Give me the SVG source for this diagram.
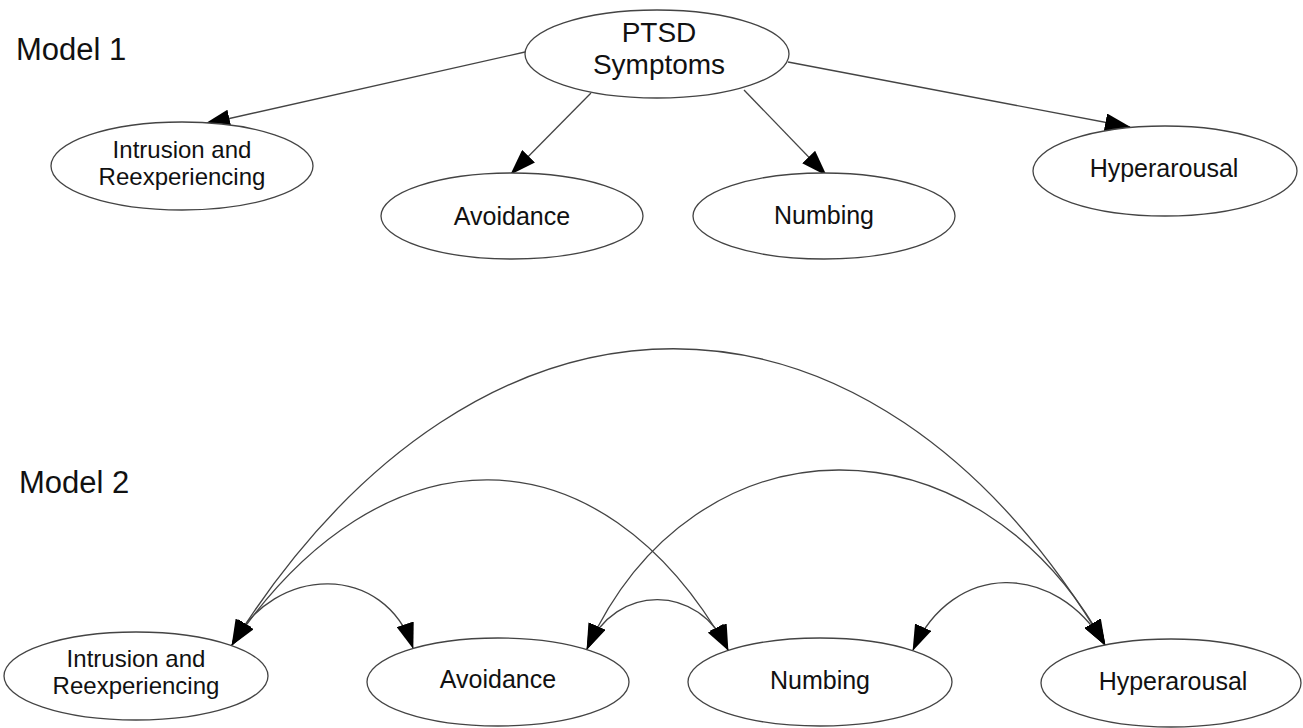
<svg xmlns="http://www.w3.org/2000/svg" width="1303" height="728" viewBox="0 0 1303 728">
<defs>
<style>
.node ellipse{fill:#fff;stroke:#444;stroke-width:1.3}
text{font-family:"Liberation Sans",Arial,sans-serif;fill:#111;text-anchor:middle}
.lbl{font-size:25px}
.lbl2{font-size:24px}
.big{font-size:28px}
.title{font-size:31px;text-anchor:start}
.edge{fill:none;stroke:#444;stroke-width:1.3}
</style>
<marker id="ah" markerUnits="userSpaceOnUse" markerWidth="26" markerHeight="18" viewBox="0 0 26 18" refX="25" refY="9" orient="auto-start-reverse">
<path d="M0,0 L26,9 L0,18 z" fill="#000"/>
</marker>
</defs>
<rect width="1303" height="728" fill="#fff"/>
<text class="title" x="16" y="60">Model 1</text>
<text class="title" x="19" y="493">Model 2</text>
<g id="connectors">
<line class="edge" x1="525" y1="52" x2="205" y2="124" marker-end="url(#ah)"/>
<line class="edge" x1="591" y1="93" x2="511" y2="174" marker-end="url(#ah)"/>
<line class="edge" x1="744" y1="90" x2="826" y2="175" marker-end="url(#ah)"/>
<line class="edge" x1="788" y1="62" x2="1130" y2="127" marker-end="url(#ah)"/>
<path class="edge" d="M232,645 C480,250 870,250 1105,645" marker-start="url(#ah)" marker-end="url(#ah)"/>
<path class="edge" d="M232,645 C382,424 600,424 728,650" marker-start="url(#ah)" marker-end="url(#ah)"/>
<path class="edge" d="M232,645 C275,563 385,563 413,648" marker-start="url(#ah)" marker-end="url(#ah)"/>
<path class="edge" d="M587,649 C695,411 977,411 1105,645" marker-start="url(#ah)" marker-end="url(#ah)"/>
<path class="edge" d="M587,649 C615,583 700,583 728,650" marker-start="url(#ah)" marker-end="url(#ah)"/>
<path class="edge" d="M913,650 C953,561 1055,561 1105,645" marker-start="url(#ah)" marker-end="url(#ah)"/>
</g>
<g id="m1-ptsd" class="node"><ellipse cx="657" cy="54" rx="132" ry="44"/><text class="big" x="659" y="42">PTSD</text><text class="big" x="659" y="74">Symptoms</text></g>
<g id="m1-intrusion" class="node"><ellipse cx="182" cy="166" rx="131" ry="44"/><text class="lbl2" x="182" y="158">Intrusion and</text><text class="lbl2" x="182" y="185">Reexperiencing</text></g>
<g id="m1-avoidance" class="node"><ellipse cx="512" cy="216" rx="131" ry="43"/><text class="lbl" x="512" y="225">Avoidance</text></g>
<g id="m1-numbing" class="node"><ellipse cx="824" cy="216" rx="131" ry="43"/><text class="lbl" x="824" y="224">Numbing</text></g>
<g id="m1-hyperarousal" class="node"><ellipse cx="1165" cy="171" rx="132" ry="45"/><text class="lbl" x="1164" y="177">Hyperarousal</text></g>
<g id="m2-intrusion" class="node"><ellipse cx="136" cy="676" rx="132" ry="44"/><text class="lbl2" x="136" y="667">Intrusion and</text><text class="lbl2" x="136" y="694">Reexperiencing</text></g>
<g id="m2-avoidance" class="node"><ellipse cx="498" cy="682" rx="131" ry="44"/><text class="lbl" x="498" y="688">Avoidance</text></g>
<g id="m2-numbing" class="node"><ellipse cx="820" cy="682" rx="132" ry="44"/><text class="lbl" x="820" y="689">Numbing</text></g>
<g id="m2-hyperarousal" class="node"><ellipse cx="1171" cy="683" rx="130" ry="44"/><text class="lbl" x="1173" y="690">Hyperarousal</text></g>
</svg>
